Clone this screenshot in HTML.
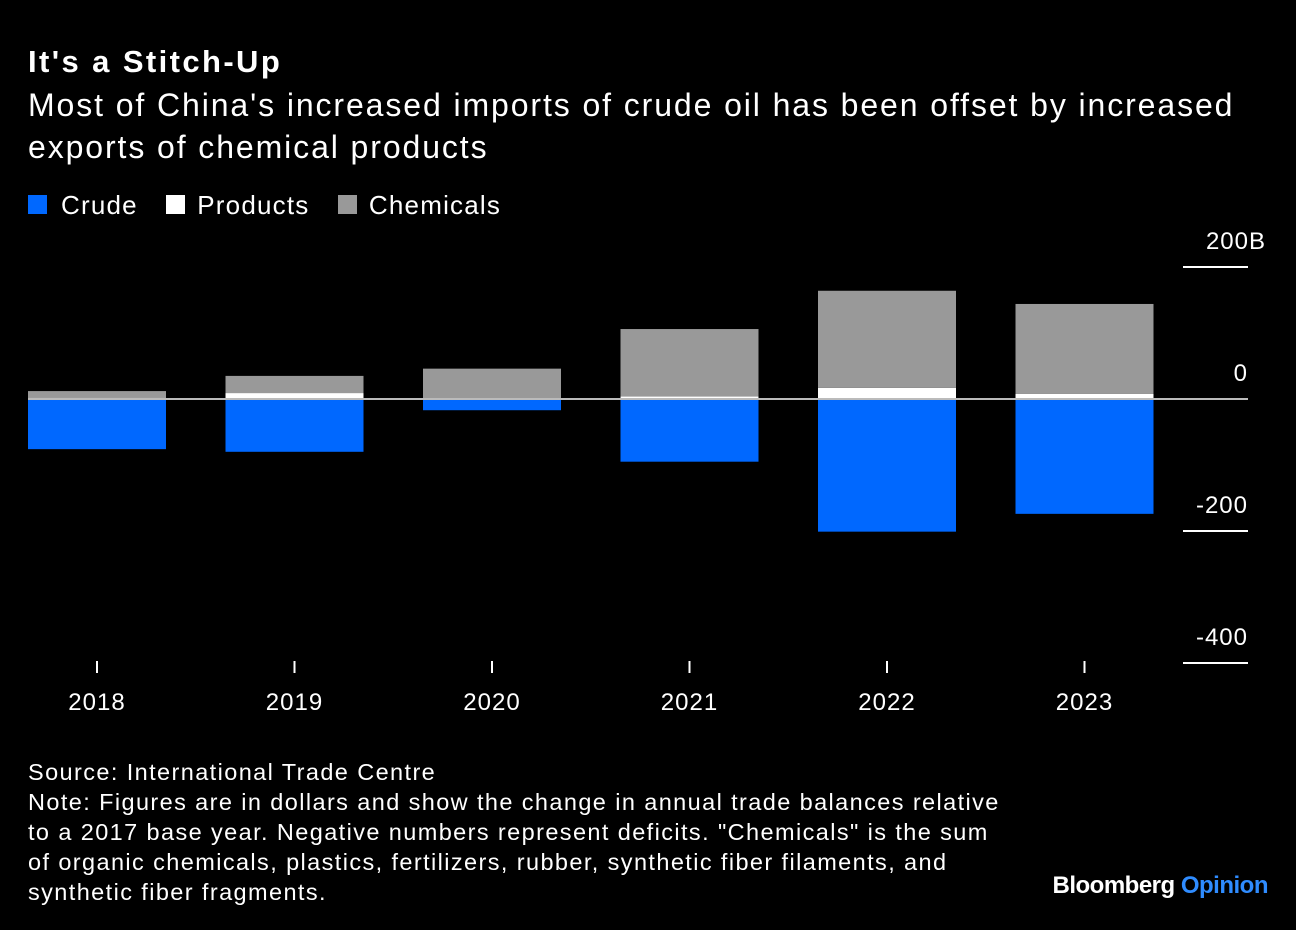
<!DOCTYPE html>
<html><head><meta charset="utf-8"><style>
body{margin:0;background:#000;width:1296px;height:930px;overflow:hidden;font-family:"Liberation Sans",sans-serif;color:#fff}
.t{position:absolute;white-space:nowrap}
</style></head><body>
<div class="t" style="left:28px;top:44px;font-size:31px;font-weight:bold;letter-spacing:2.4px">It's a Stitch-Up</div>
<div class="t" style="left:28px;top:84px;font-size:32px;line-height:42px;letter-spacing:1.9px">Most of China's increased imports of crude oil has been offset by increased<br>exports of chemical products</div>
<div class="t" style="left:28px;top:190px;font-size:26px;letter-spacing:1.2px">
<span><span style="display:inline-block;width:19px;height:19px;background:#0068ff;margin-right:14px"></span>Crude</span>
<span style="margin-left:20px"><span style="display:inline-block;width:19px;height:19px;background:#fff;margin-right:12px"></span>Products</span>
<span style="margin-left:20px"><span style="display:inline-block;width:19px;height:19px;background:#999;margin-right:12px"></span>Chemicals</span>
</div>
<svg id="chart" width="1296" height="930" style="position:absolute;left:0;top:0" font-family="Liberation Sans, sans-serif"></svg>
<div class="t" style="left:28px;top:757px;font-size:23.5px;line-height:30px;letter-spacing:1.4px">Source: International Trade Centre<br>Note: Figures are in dollars and show the change in annual trade balances relative<br>to a 2017 base year. Negative numbers represent deficits. "Chemicals" is the sum<br>of organic chemicals, plastics, fertilizers, rubber, synthetic fiber filaments, and<br>synthetic fiber fragments.</div>
<div class="t" style="right:28px;top:872px;font-size:24px;font-weight:bold;letter-spacing:-0.5px">Bloomberg <span style="color:#2f8cff">Opinion</span></div>
<script>
const years=["2018","2019","2020","2021","2022","2023"];
const crude=[-76,-80,-17,-95,-201,-174];
const products=[2,9,1,4,17,8];
const chemicals=[10,26,45,102,147,136];
const yTicks=[200,0,-200,-400];
const yTickLabels=["200B","0","-200","-400"];
const svg=document.getElementById('chart');
const NS='http://www.w3.org/2000/svg';
const y=v=>399-v*0.66;
const xc=i=>97+i*197.5;
const bw=138;
function mk(tag,attrs){const e=document.createElementNS(NS,tag);for(const k in attrs)e.setAttribute(k,attrs[k]);svg.appendChild(e);return e;}
years.forEach((yr,i)=>{
  const x=xc(i)-bw/2;
  let r=mk('rect',{x:x,y:y(0),width:bw,height:y(crude[i])-y(0),fill:'#0068ff'});
  
  
  r=mk('rect',{x:x,y:y(products[i]),width:bw,height:y(0)-y(products[i]),fill:'#fff'});
  
  
  const top=products[i]+chemicals[i];
  r=mk('rect',{x:x,y:y(top),width:bw,height:y(products[i])-y(top),fill:'#999'});
  
  
  const tk=mk('line',{x1:xc(i),x2:xc(i),y1:661,y2:673,stroke:'#fff','stroke-width':2});
  
  
  const tl=mk('text',{x:xc(i),y:710,fill:'#fff','font-size':24,'text-anchor':'middle','letter-spacing':1});
  tl.textContent=yr;
  
  
});
yTicks.forEach((v,i)=>{
  const ln=v===0?mk('line',{x1:28,x2:1248,y1:y(v),y2:y(v),stroke:'#bbb','stroke-width':2}):mk('line',{x1:1183,x2:1248,y1:y(v),y2:y(v),stroke:'#fff','stroke-width':2});
  
  
  const t=mk('text',{x:v===200?1266:1248,y:y(v)-18,fill:'#fff','font-size':24,'text-anchor':'end','letter-spacing':1});
  t.textContent=yTickLabels[i];
  
  
});
</script>
</body></html>
